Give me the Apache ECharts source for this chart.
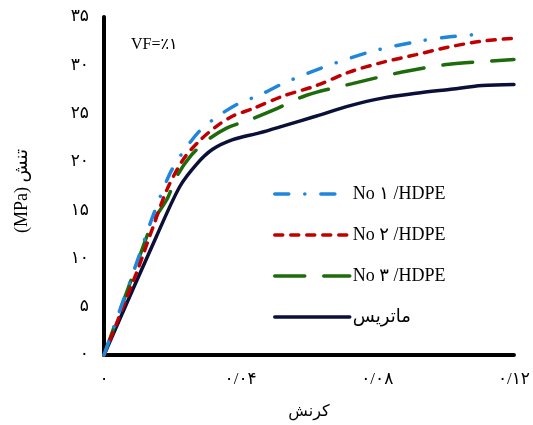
<!DOCTYPE html>
<html>
<head>
<meta charset="utf-8">
<script src="https://cdn.jsdelivr.net/npm/echarts@6/dist/echarts.min.js"></script>
<style>html,body{margin:0;padding:0;background:#fff}#c{width:533px;height:425px}</style>
</head>
<body>
<div id="c"></div>
<script>
// Strain values (x) and stress values (y, MPa)
var matrixX = [0, 0.0155, 0.0222, 0.0272, 0.0318, 0.0377, 0.0455, 0.0523, 0.0622, 0.0718, 0.0815, 0.0914, 0.101, 0.1107, 0.12];
var matrixY = [0, 12.4, 17.45, 19.8, 21.3, 22.3, 23.0, 23.7, 24.75, 25.8, 26.6, 27.1, 27.5, 27.9, 28.0];

var no3X = [0, 0.0085, 0.0143, 0.0184, 0.0213, 0.0251, 0.0301, 0.0359, 0.0426, 0.0499, 0.0593, 0.0727, 0.0873, 0.101, 0.12];
var no3Y = [0, 8.3, 13.8, 16.1, 18.5, 20.5, 22.2, 23.5, 24.35, 25.4, 26.9, 28.1, 29.3, 30.1, 30.6];

var no2X = [0, 0.0096, 0.0143, 0.0184, 0.0231, 0.028, 0.033, 0.0377, 0.0435, 0.0523, 0.0622, 0.0718, 0.0815, 0.0914, 0.101, 0.1107, 0.12];
var no2Y = [0, 8.6, 13.2, 17.1, 20.2, 22.2, 23.7, 24.75, 25.5, 26.8, 27.9, 29.3, 30.3, 31.1, 31.9, 32.5, 32.8];

var no1X = [0, 0.0096, 0.014, 0.0193, 0.0231, 0.028, 0.033, 0.0397, 0.0455, 0.0523, 0.0651, 0.0785, 0.0923, 0.1001, 0.1092];
var no1Y = [0, 9.6, 14.1, 18.8, 21.0, 23.2, 24.65, 26.1, 26.9, 28.1, 29.9, 31.45, 32.5, 32.9, 33.2];

var seriesNames = ['No ۱ /HDPE', 'No ۲ /HDPE', 'No ۳ /HDPE', 'ماتریس'];
var xTickValues = [0, 0.04, 0.08, 0.12];
var xTickLabels = ['۰', '۰/۰۴', '۰/۰۸', '۰/۱۲'];
var yTickValues = [0, 5, 10, 15, 20, 25, 30, 35];
var yTickLabels = ['۰', '۵', '۱۰', '۱۵', '۲۰', '۲۵', '۳۰', '۳۵'];
var xAxisName = 'کرنش';
var yAxisName = '(MPa) تنش';
var annotation = 'VF=٪۱';

function pairs(xs, ys) { return xs.map(function (x, i) { return [x, ys[i]]; }); }
function lookup(vals, labels, v) {
  for (var i = 0; i < vals.length; i++) if (Math.abs(vals[i] - v) < 1e-9) return labels[i];
  return '';
}

var FONT = '"Liberation Serif", "DejaVu Serif", "DejaVu Sans", serif';
var colors = ['#1f86dc', '#c00000', '#1e6b0c', '#0b1038'];
var dashes = [[14, 16, 0.1, 16], [8, 8], [30, 19], 'solid'];
var xs = [no1X, no2X, no3X, matrixX];
var ys = [no1Y, no2Y, no3Y, matrixY];

var chart = echarts.init(document.getElementById('c'));
chart.setOption({
  animation: false,
  backgroundColor: '#fff',
  textStyle: { fontFamily: FONT },
  grid: { left: 104, right: 18, top: 17, bottom: 63 },
  xAxis: {
    type: 'value', min: 0, max: 0.12, interval: 0.04,
    name: xAxisName, nameLocation: 'middle', nameGap: 49,
    nameTextStyle: { fontSize: 16, color: '#000', fontFamily: FONT },
    axisLine: { show: true, onZero: false, lineStyle: { color: '#000', width: 4 } },
    axisTick: { show: false },
    splitLine: { show: false },
    axisLabel: { margin: 16, fontSize: 17, color: '#000', fontFamily: FONT,
      formatter: function (v) { return lookup(xTickValues, xTickLabels, v); } }
  },
  yAxis: {
    type: 'value', min: 0, max: 35, interval: 5,
    name: yAxisName, nameLocation: 'middle', nameGap: 73, nameRotate: 90,
    nameTextStyle: { fontSize: 18, color: '#000', fontFamily: FONT, padding: [0, 0, 0, -10] },
    axisLine: { show: true, lineStyle: { color: '#000', width: 4 } },
    axisTick: { show: false },
    splitLine: { show: false },
    axisLabel: { margin: 15, fontSize: 17, color: '#000', fontFamily: FONT,
      formatter: function (v) { return lookup(yTickValues, yTickLabels, v); } }
  },
  legend: {
    orient: 'vertical', left: 268, top: 180,
    itemWidth: 75, itemHeight: 14, itemGap: 23,
    itemStyle: { opacity: 0 },
    lineStyle: { width: 3.5 },
    textStyle: { fontSize: 18, color: '#000', fontFamily: FONT, padding: [0, 0, 0, -2] },
    data: seriesNames.map(function (n) { return { name: n }; })
  },
  graphic: [{
    type: 'text', left: 131, top: 37,
    style: { text: annotation, fontSize: 16, fill: '#000', fontFamily: FONT }
  }],
  series: seriesNames.map(function (n, i) {
    return {
      name: n, type: 'line', data: pairs(xs[i], ys[i]),
      smooth: 0.3, symbol: 'none', showSymbol: false, z: 5 - i,
      lineStyle: { color: colors[i], width: 3.5, type: dashes[i], cap: 'round' },
      itemStyle: { color: colors[i] }
    };
  })
});
</script>
</body>
</html>
